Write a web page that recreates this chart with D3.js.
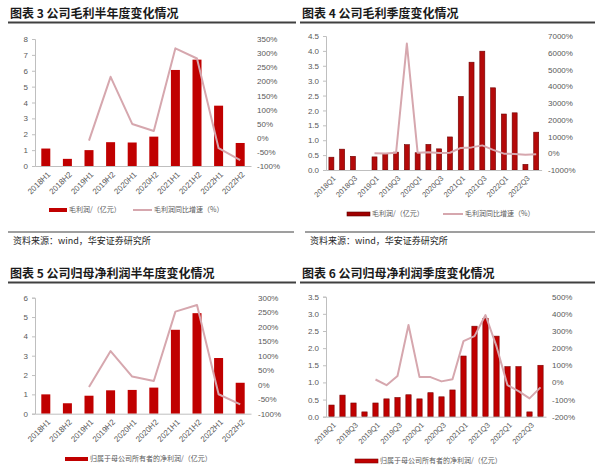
<!DOCTYPE html>
<html><head><meta charset="utf-8">
<script src="https://cdn.jsdelivr.net/npm/d3@7"></script>
<style>
html,body{margin:0;padding:0;background:#fff;}
svg{display:block;}
</style></head>
<body>
<svg id="c" width="600" height="465"></svg>
<script>
// ---------- data ----------
const halfCats = ["2018H1","2018H2","2019H1","2019H2","2020H1","2020H2","2021H1","2021H2","2022H1","2022H2"];
const grossHalf = [1.1,0.45,1.0,1.5,1.48,1.85,6.05,6.7,3.8,1.45];
const grossHalfYoY = [null,null,-10,216,49,24,317,281,-37,-79];

const quarterCats = ["2018Q1","2018Q2","2018Q3","2018Q4","2019Q1","2019Q2","2019Q3","2019Q4",
  "2020Q1","2020Q2","2020Q3","2020Q4","2021Q1","2021Q2","2021Q3","2021Q4","2022Q1","2022Q2","2022Q3","2022Q4"];
const grossQ = [0.43,0.70,0.46,0,0.44,0.55,0.60,0.85,0.58,0.86,0.71,1.11,2.47,3.62,3.99,2.76,1.88,1.92,0.19,1.27];
const grossQYoY = [null,null,null,null,5,-20,30,6550,30,55,15,30,320,350,470,200,-25,-45,-95,-55];

const netHalf = [1.0,0.54,0.93,1.21,1.23,1.35,4.34,5.2,2.88,1.6];
const netHalfYoY = [null,null,-8,116,28,13,252,275,-33,-68];

const netQ = [0.34,0.63,0.40,0.14,0.40,0.52,0.56,0.64,0.52,0.70,0.58,0.78,1.77,2.64,2.87,2.35,1.46,1.46,0.14,1.50];
const netQYoY = [null,null,null,null,17,-16,37,335,31,31,6,19,241,270,393,210,-16,-51,-93,-29];

const ticks3L = [0,1,2,3,4,5,6,7,8];
const ticks3R = [-100,-50,0,50,100,150,200,250,300,350];
const ticks4L = [0,0.5,1,1.5,2,2.5,3,3.5,4,4.5];
const ticks4R = [-1000,0,1000,2000,3000,4000,5000,6000,7000];
const ticks5L = [0,1,2,3,4,5,6];
const ticks5R = [-100,-50,0,50,100,150,200,250,300];
const ticks6L = [0,0.5,1,1.5,2,2.5,3,3.5];
const ticks6R = [-200,-100,0,100,200,300,400,500];

const titles = ["图表 3 公司毛利半年度变化情况","图表 4 公司毛利季度变化情况","图表 5 公司归母净利润半年度变化情况","图表 6 公司归母净利润季度变化情况"];
const barLegend1 = "毛利润/（亿元）";
const lineLegend1 = "毛利润同比增速（%）";
const barLegend2 = "归属于母公司所有者的净利润/（亿元）";
const sourceText = "资料来源：wind，华安证券研究所";

// ---------- drawing ----------
const svg = d3.select("#c");
const CJK = "'Noto Sans CJK SC','Noto Sans',sans-serif";
const NUM = "'Liberation Sans',Arial,sans-serif";
const RED = "#c00000";
const PINK = "#d6a7ae";
const AX = "#bfbfbf";
const TXT = "#595959";

function chart(o){
  const g = svg.append("g");
  const x = d3.scaleBand().domain(o.cats).range([o.x0,o.x1]).paddingInner(o.pad).paddingOuter(o.pad/2);
  const yL = d3.scaleLinear().domain([0,o.lMax]).range([o.yBot,o.yTop]);
  const yR = d3.scaleLinear().domain([o.rMin,o.rMax]).range([o.yBot,o.yTop]);

  // left axis
  const la = g.append("g").attr("transform",`translate(${o.x0},0)`)
    .call(d3.axisLeft(yL).tickValues(o.lTicks).tickSize(3).tickPadding(4).tickFormat(o.lFmt));
  la.select(".domain").attr("stroke",AX);
  la.selectAll(".tick line").attr("stroke",AX);
  la.selectAll("text").attr("fill",TXT).style("font-family",NUM).style("font-size","8px");

  // right axis (labels only)
  const ra = g.append("g").attr("transform",`translate(${o.rx},0)`)
    .call(d3.axisRight(yR).tickValues(o.rTicks).tickSize(0).tickPadding(0).tickFormat(d=>d+"%"));
  ra.select(".domain").remove();
  ra.selectAll("text").attr("fill",TXT).style("font-family",NUM).style("font-size","8px");

  // bars
  const bw = o.bw;
  g.selectAll("rect.bar").data(o.bars).join("rect")
    .attr("x",(d,i)=>x(o.cats[i])+x.bandwidth()/2-bw/2)
    .attr("width",bw)
    .attr("y",d=>yL(d))
    .attr("height",d=>o.yBot-yL(d))
    .attr("fill",o.barFill)
    .attr("stroke",o.barStroke||"none").attr("stroke-width",0.6);

  // bottom axis
  const ba = g.append("g").attr("transform",`translate(0,${o.yBot})`)
    .call(d3.axisBottom(x).tickSize(0).tickFormat(""));
  ba.select(".domain").attr("stroke",AX);
  ba.selectAll(".tick").remove();
  g.selectAll("text.xl").data(o.cats.filter((c,i)=>i%o.every===0)).join("text")
    .attr("class","xl")
    .attr("transform",d=>`translate(${x(d)+x.bandwidth()/2+3},${o.yBot+7}) rotate(-45)`)
    .attr("text-anchor","end").attr("dy","0.35em")
    .attr("fill",TXT).style("font-family",NUM).style("font-size",o.xFont)
    .text(d=>d);

  // line
  const line = d3.line().defined(d=>d!=null)
    .x((d,i)=>x(o.cats[i])+x.bandwidth()/2).y(d=>yR(d));
  g.append("path").attr("d",line(o.line.map((d,i)=>d)))
    .attr("fill","none").attr("stroke",PINK).attr("stroke-width",2).attr("stroke-linejoin","round");
  // fix index for defined line
  g.select("path:last-of-type");
}

function header(tx,y,text,l0,l1){
  svg.append("text").attr("x",tx).attr("y",y).text(text)
    .style("font-family",CJK).style("font-size","12px").style("font-weight","bold").attr("fill","#1a1a1a");
  svg.append("line").attr("x1",l0).attr("x2",l1).attr("y1",y+4.5).attr("y2",y+4.5)
    .attr("stroke","#404040").attr("stroke-width",2);
}
function legendBar(x,y,w,text,fill,stroke){
  svg.append("rect").attr("x",x).attr("y",y-2).attr("width",w).attr("height",4).attr("fill",fill).attr("stroke",stroke||"none").attr("stroke-width",0.6);
  svg.append("text").attr("x",x+w+2).attr("y",y).attr("dy","0.35em").text(text)
    .style("font-family",CJK).style("font-size","7px").attr("fill",TXT);
}
function legendLine(x,y,w,text){
  svg.append("line").attr("x1",x).attr("x2",x+w).attr("y1",y).attr("y2",y).attr("stroke",PINK).attr("stroke-width",2);
  svg.append("text").attr("x",x+w+2).attr("y",y).attr("dy","0.35em").text(text)
    .style("font-family",CJK).style("font-size","7px").attr("fill",TXT);
}
function source(x,y,l0,l1){
  svg.append("line").attr("x1",l0).attr("x2",l1).attr("y1",y-12).attr("y2",y-12).attr("stroke","#7f7f7f").attr("stroke-width",1.5);
  svg.append("text").attr("x",x).attr("y",y).text(sourceText)
    .style("font-family",CJK).style("font-size","9px").attr("fill","#262626");
}

header(10,18,titles[0],8,296);
header(302,18,titles[1],300,595);
header(10,278,titles[2],8,296);
header(302,278,titles[3],300,595);

chart({cats:halfCats,bars:grossHalf,line:grossHalfYoY,x0:35,x1:251,yTop:39,yBot:166,
  lMax:8,lTicks:ticks3L,lFmt:d3.format("d"),rMin:-100,rMax:350,rTicks:ticks3R,rx:257,
  pad:0.58,bw:9,every:1,xFont:"8px",barFill:RED});
chart({cats:quarterCats,bars:grossQ,line:grossQYoY,x0:326,x1:541.6,yTop:36,yBot:170,
  lMax:4.5,lTicks:ticks4L,lFmt:d3.format(".1f"),rMin:-1000,rMax:7000,rTicks:ticks4R,rx:548,
  pad:0.55,bw:5,every:2,xFont:"7.5px",barFill:"#b40a0a",barStroke:"#6e0000"});
chart({cats:halfCats,bars:netHalf,line:netHalfYoY,x0:35,x1:251,yTop:297.7,yBot:413.7,
  lMax:6,lTicks:ticks5L,lFmt:d3.format("d"),rMin:-100,rMax:300,rTicks:ticks5R,rx:258,
  pad:0.58,bw:9,every:1,xFont:"8px",barFill:RED});
chart({cats:quarterCats,bars:netQ,line:netQYoY,x0:326,x1:546,yTop:296.7,yBot:416.7,
  lMax:3.5,lTicks:ticks6L,lFmt:d3.format(".1f"),rMin:-200,rMax:500,rTicks:ticks6R,rx:552,
  pad:0.52,bw:5.3,every:2,xFont:"7.5px",barFill:RED,barStroke:"#7a0000"});

legendBar(49,210,18,barLegend1,RED);
legendLine(133,210,19,lineLegend1);
legendBar(347,214,23,barLegend1,"#a00000","#5a0000");
legendLine(443,214,20,lineLegend1);
legendBar(65,459,23,barLegend2,RED);
legendBar(355,461,23,barLegend2,RED,"#7a0000");

source(13,244,8,294);
source(310,244,305,595);
</script>
</body></html>
